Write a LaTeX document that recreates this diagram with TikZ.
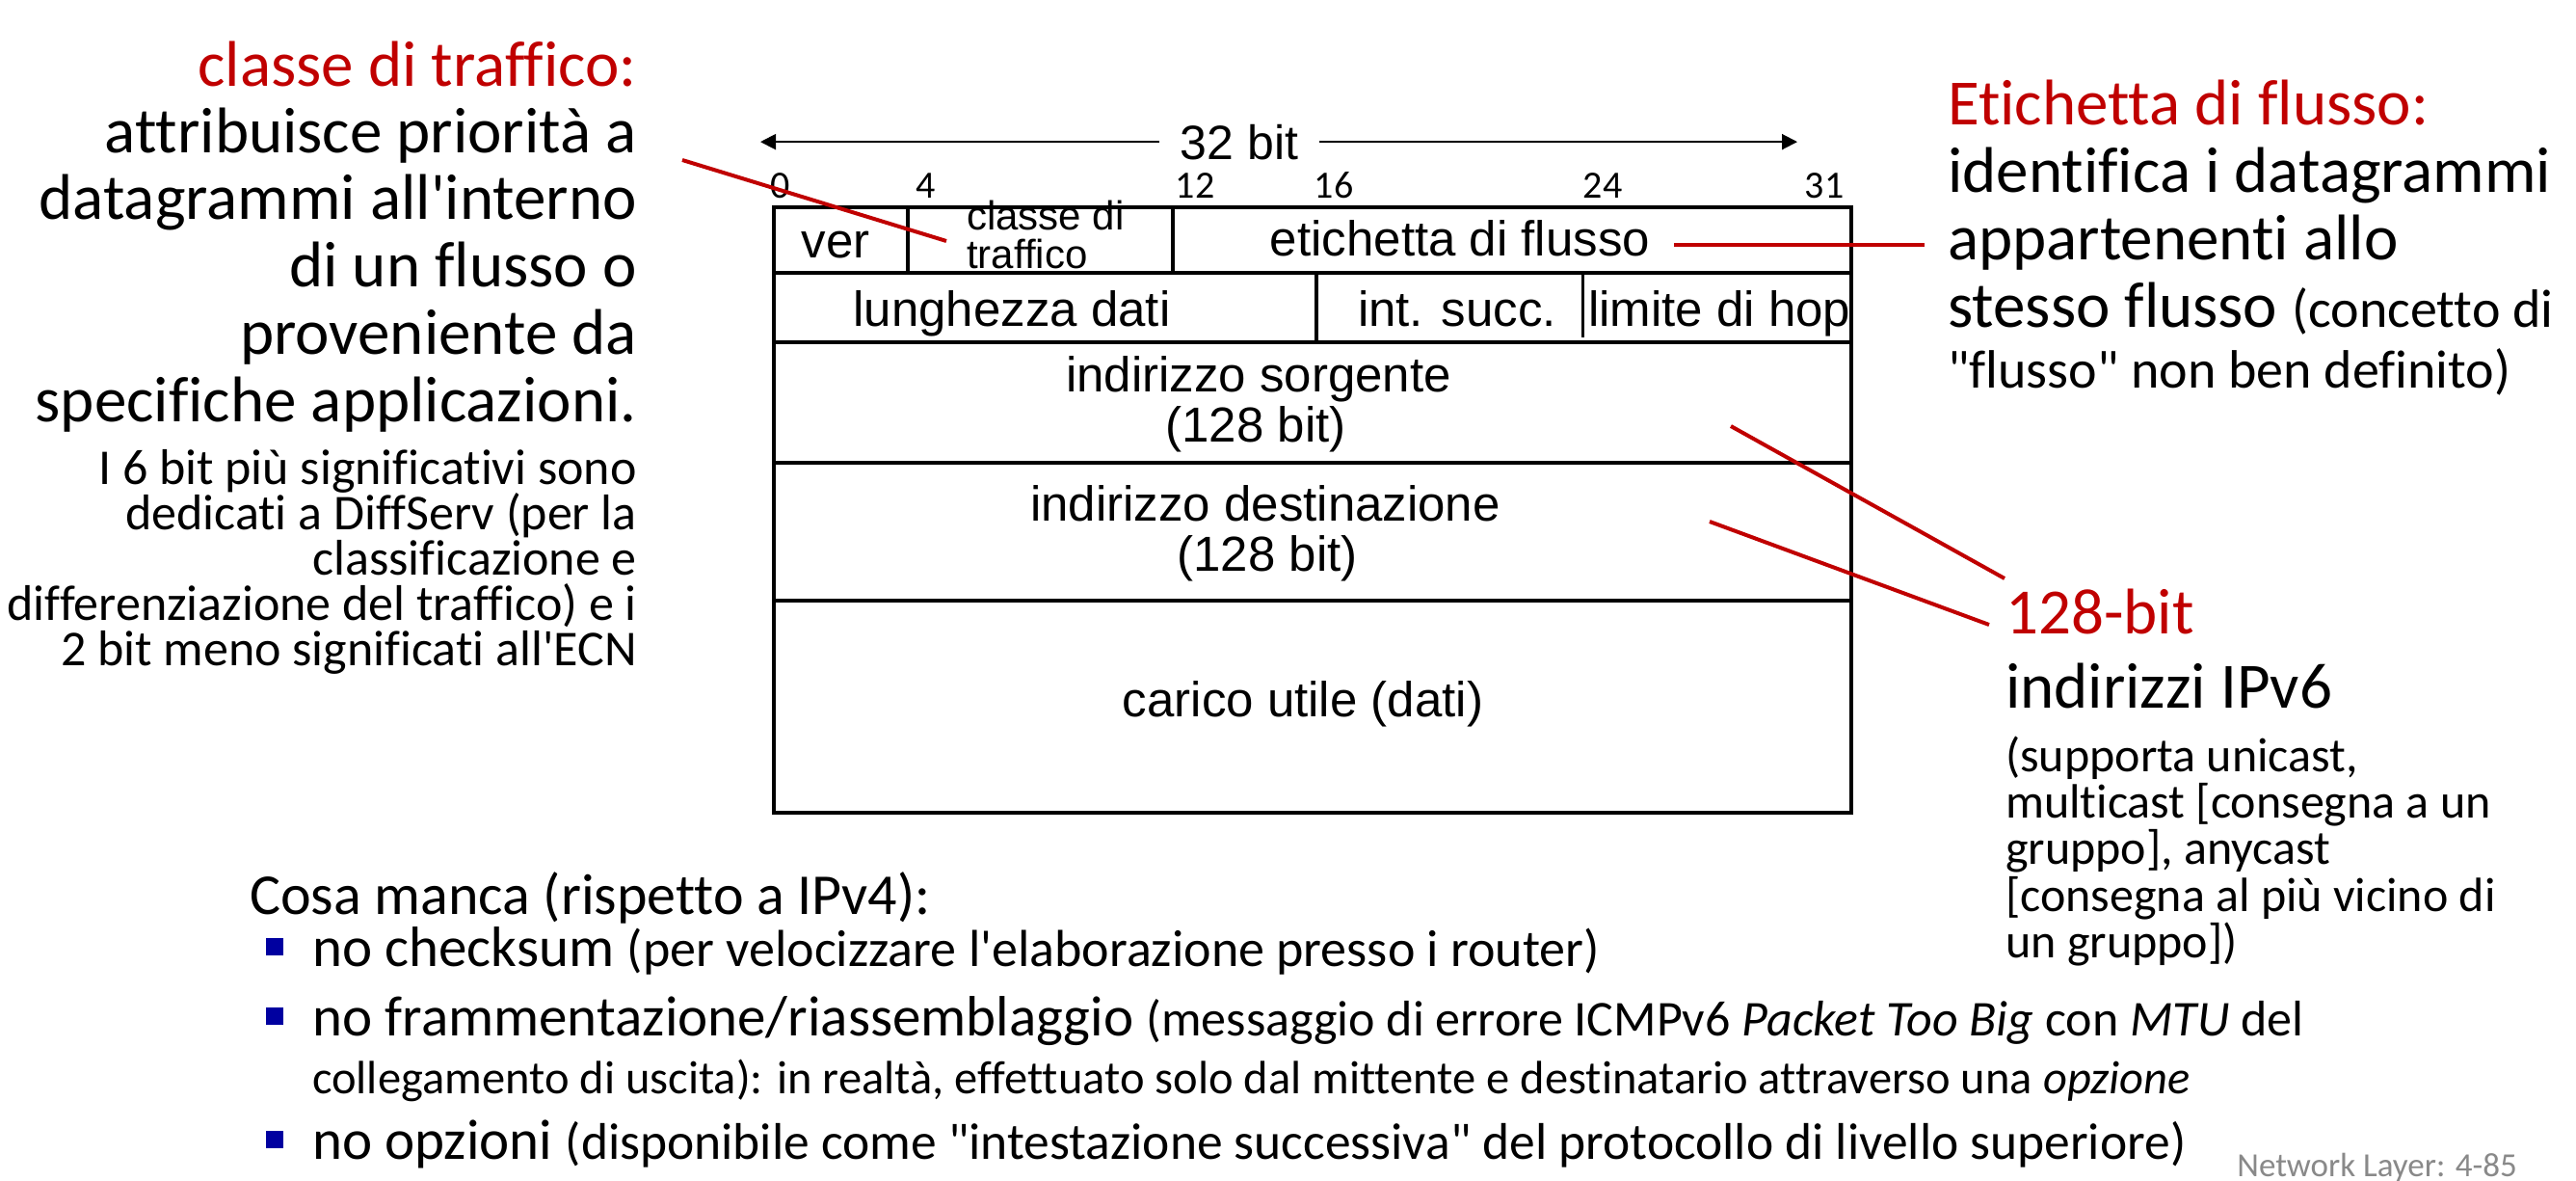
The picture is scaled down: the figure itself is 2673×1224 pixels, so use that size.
\documentclass[tikz,border=0pt]{standalone}
\usepackage{fontspec}
\setmainfont{Carlito}[Ligatures=NoCommon]
\newfontfamily\arialf{Liberation Sans}
\usetikzlibrary{arrows.meta}
\definecolor{tred}{RGB}{192,0,0}
\definecolor{bblue}{RGB}{0,0,160}
\definecolor{slidegray}{RGB}{137,137,137}
\newcommand{\fsz}[1]{\fontsize{#1}{#1}\selectfont}
\newcommand{\qq}{\textquotedbl}
\tikzset{
  txt/.style={inner sep=0pt, font=\fsz{67}},
  small/.style={inner sep=0pt, font=\fsz{52}},
  listtxt/.style={inner sep=0pt, font=\fsz{59}, anchor=base west},
  cell/.style={inner sep=0pt, font=\arialf\fsz{51}},
  bitno/.style={inner sep=0pt, font=\fsz{40}, anchor=base},
  tbl/.style={line width=4pt},
  redline/.style={draw=tred, line width=4pt},
  arr/.style={line width=2pt, -{Triangle[length=16pt,width=16pt]}},
  bul/.style={rectangle, fill=bblue, minimum size=18pt, inner sep=0pt}
}
\begin{document}
\begin{tikzpicture}[x=1pt,y=-1pt]
\useasboundingbox[fill=white] (0,0) rectangle (2673,1224);
% left column
\node[txt, anchor=base east, text=tred] (lt1) at (661,89) {classe di traffico:};
\foreach \n/\y/\t in {2/158/attribuisce priorità a, 3/227/datagrammi all\textquotesingle interno, 4/297/di un flusso o, 5/367/proveniente da, 6/437/specifiche applicazioni.}
  \node[txt, anchor=base east] (lt\n) at (661,\y) {\t};
\foreach \n/\y/\t in {7/502/I 6 bit più significativi sono, 8/549/dedicati a DiffServ (per la, 9/596/classificazione e, 10/643/differenziazione del traffico) e i, 11/690/2 bit meno significati all\textquotesingle ECN}
  \node[small, anchor=base east] (lt\n) at (661,\y) {\t};
% header
\node[cell, font=\arialf\fsz{50}, anchor=base, inner xsep=22pt] (bits) at (1286,165) {32 bit};
\coordinate (bitl) at (789,148);
\coordinate (bitr) at (1865,148);
\draw[arr] (bits.west) -- (bits.west -| bitl);
\draw[arr] (bits.east) -- (bits.east -| bitr);
\node[bitno] (n0) at (810,205) {0};
\node[bitno] (n4) at (961,205) {4};
\node[bitno] (n12) at (1240,205) {12};
\node[bitno] (n16) at (1384,205) {16};
\node[bitno] (n24) at (1663,205) {24};
\node[bitno] (n31) at (1893,205) {31};
% table
\draw[tbl] (803,215) rectangle (1921,843);
\foreach \y in {283,355,480,623}
  \draw[tbl] (803,\y) -- (1921,\y);
\draw[tbl] (942,215) -- (942,283);
\draw[tbl] (1217,215) -- (1217,283);
\draw[tbl] (1366,283) -- (1366,355);
\draw[line width=3pt] (1642,283) -- (1642,350);
\node[cell, anchor=base] (ver) at (867,267) {ver};
\node[cell, font=\arialf\fsz{42}, anchor=base west] (cl1) at (1003,238) {classe di};
\node[cell, font=\arialf\fsz{42}, anchor=base west] (cl2) at (1003,278) {traffico};
\node[cell, anchor=base] (flusso) at (1515,265) {etichetta di flusso};
\node[cell, anchor=base] (lung) at (1050,338) {lunghezza dati};
\node[cell, anchor=base] (succ) at (1512,338) {int. succ.};
\node[cell, anchor=base west] (hop) at (1648,338) {limite di hop};
\node[cell, anchor=base] (src) at (1306,406) {indirizzo sorgente};
\node[cell, anchor=base] (srcb) at (1303,458) {(128 bit)};
\node[cell, anchor=base] (dst) at (1313,540) {indirizzo destinazione};
\node[cell, anchor=base] (dstb) at (1315,592) {(128 bit)};
\node[cell, anchor=base] (load) at (1352,743) {carico utile (dati)};
% right column
\node[txt, anchor=base west, text=tred] (rt1) at (2021,129) {Etichetta di flusso:};
\foreach \n/\y/\t in {2/199/identifica i datagrammi, 3/269/appartenenti allo, 4/339/{stesso flusso {\fsz{56}(concetto di}}}
  \node[txt, anchor=base west] (rt\n) at (2021,\y) {\t};
\node[txt, font=\fsz{56}, anchor=base west] (rt5) at (2021,402) {\qq flusso\qq{} non ben definito)};
\node[txt, anchor=base west, text=tred] (ip1) at (2081,657) {128-bit};
\node[txt, anchor=base west] (ip2) at (2081,734) {indirizzi IPv6};
\foreach \n/\y/\t in {3/800/{(supporta unicast,}, 4/848/multicast [consegna a un, 5/896/{gruppo], anycast}, 6/945/[consegna al più vicino di, 7/993/un gruppo])}
  \node[small, font=\fsz{50}, anchor=base west] (ip\n) at (2081,\y) {\t};
% red pointers
\coordinate (tc1) at (708,166);
\coordinate (tc2) at (982,250);
\coordinate (fl1) at (1737,254);
\coordinate (fl2) at (1997,254);
\coordinate (sa1) at (1796,442);
\coordinate (sa2) at (2080,600);
\coordinate (da1) at (1774,541);
\coordinate (da2) at (2064,648);
\draw[redline] (tc1) -- (tc2);
\draw[redline] (fl1) -- (fl2);
\draw[redline] (sa1) -- (sa2);
\draw[redline] (da1) -- (da2);
% bottom list
\node[listtxt, font=\fsz{60}] (cosa) at (259,948) {Cosa manca (rispetto a IPv4):};
\node[bul] (b1) at (285,982) {};
\node[bul] (b2) at (285,1054) {};
\node[bul] (b3) at (285,1182) {};
\node[listtxt] (p1) at (324,1002) {no checksum {\fsz{54}(per velocizzare l\textquotesingle elaborazione presso i router)}};
\node[listtxt] (p2) at (324,1074) {no frammentazione/riassemblaggio {\fsz{52}(messaggio di errore ICMPv6 \textit{Packet Too Big} con \textit{MTU} del}};
\node[listtxt, font=\fsz{48.5}] (p2b) at (324,1134) {collegamento di uscita): in realtà, effettuato solo dal mittente e destinatario attraverso una \textit{opzione}};
\node[listtxt] (p3) at (324,1202) {no opzioni {\fsz{53.5}(disponibile come \qq intestazione successiva\qq{} del protocollo di livello superiore)}};
\node[inner sep=0pt, font=\fsz{35}, text=slidegray, anchor=base east] (pg) at (2612,1220) {Network Layer: 4-85};
\end{tikzpicture}
\end{document}
